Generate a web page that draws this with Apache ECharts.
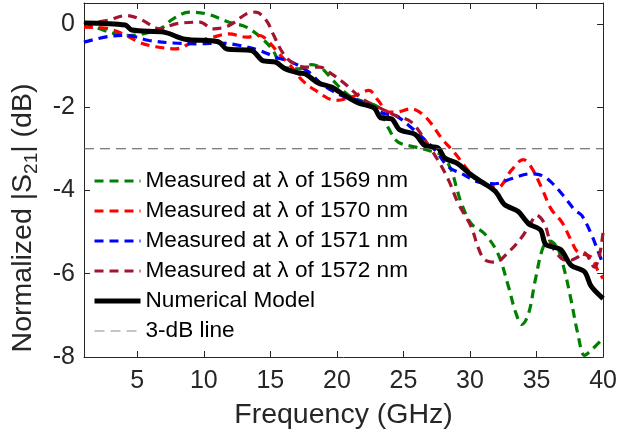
<!DOCTYPE html>
<html>
<head>
<meta charset="utf-8">
<script src="https://cdn.jsdelivr.net/npm/echarts@6/dist/echarts.min.js"></script>
<style>
html,body{margin:0;padding:0;background:#fff;}
#chart{width:620px;height:440px;}
</style>
</head>
<body>
<div id="chart"></div>
<script>
// ---- data (frequency GHz, normalized |S21| dB) ----
const xTicks = [5, 10, 15, 20, 25, 30, 35, 40];
const yTicks = [-8, -6, -4, -2, 0];
const seriesNames = [
  'Measured at \u03bb of 1569 nm',
  'Measured at \u03bb of 1570 nm',
  'Measured at \u03bb of 1571 nm',
  'Measured at \u03bb of 1572 nm',
  'Numerical Model',
  '3-dB line'
];
const meas1569 = [[1,0.04],[2.9,-0.2],[4.4,-0.28],[6.7,-0.12],[7.7,0.12],[8.9,0.28],[10.2,0.24],[11.9,0.04],[13.2,-0.08],[14.4,-0.36],[15.2,-0.64],[15.9,-1.02],[17.2,-1.08],[18.1,-0.98],[18.9,-1.08],[19.6,-1.32],[20.9,-1.72],[22.1,-1.88],[23.1,-2.0],[23.9,-2.52],[24.6,-2.84],[25.9,-2.96],[26.9,-3.04],[27.9,-3.16],[28.6,-3.52],[29.0,-3.95],[29.4,-4.35],[30.1,-4.8],[31.1,-5.04],[32.1,-5.52],[32.9,-6.32],[33.4,-6.9],[33.9,-7.22],[34.4,-6.96],[34.9,-6.16],[35.5,-5.36],[36.0,-5.22],[36.6,-5.4],[37.1,-5.92],[37.6,-6.64],[38.1,-7.44],[38.6,-7.96],[39.1,-7.84],[40,-7.55]];
const meas1570 = [[1,-0.08],[2.5,-0.1],[4,-0.25],[5.2,-0.45],[6.4,-0.55],[7.9,-0.6],[9.2,-0.44],[10.7,-0.32],[11.9,-0.24],[13.2,-0.32],[14.2,-0.28],[14.9,-0.44],[15.6,-0.7],[16.6,-1.04],[17.4,-1.36],[18.4,-1.6],[19.9,-1.84],[21.1,-1.76],[22.4,-1.6],[23.1,-1.84],[23.9,-2.12],[24.4,-2.12],[25.6,-2.04],[26.4,-2.16],[27.1,-2.4],[27.9,-2.76],[28.9,-3.12],[30.1,-3.6],[31.4,-3.88],[32.1,-3.92],[33.1,-3.52],[34.0,-3.26],[34.6,-3.44],[35.4,-3.95],[36.1,-4.45],[36.9,-4.76],[37.6,-5.2],[38.1,-5.48],[39.1,-5.6],[39.6,-5.92],[40,-6.12]];
const meas1571 = [[1,-0.44],[2.9,-0.3],[4.2,-0.28],[5.9,-0.4],[7.7,-0.46],[9.7,-0.48],[11.2,-0.46],[12.7,-0.52],[14.2,-0.64],[15.4,-0.8],[16.6,-0.92],[17.9,-1.16],[18.7,-1.4],[19.6,-1.6],[20.6,-1.76],[21.6,-1.84],[22.6,-2.0],[23.6,-2.16],[24.4,-2.2],[25.4,-2.44],[26.4,-2.72],[27.4,-3.04],[28.4,-3.44],[29.4,-3.6],[30.6,-3.8],[31.9,-3.84],[33.1,-3.72],[34.6,-3.6],[35.4,-3.64],[36.1,-3.8],[37.1,-4.16],[37.9,-4.48],[38.4,-4.6],[39.1,-5.04],[39.6,-5.44],[40,-5.78]];
const meas1572 = [[1,0.0],[2.7,0.08],[4.2,0.2],[5.3,0.1],[6.7,-0.12],[7.9,0.0],[9.7,0.04],[10.7,-0.12],[11.9,-0.04],[13.2,0.24],[13.9,0.28],[14.7,0.08],[15.2,-0.24],[15.9,-0.68],[16.6,-0.92],[17.6,-1.04],[18.7,-1.04],[19.6,-1.2],[20.6,-1.44],[21.9,-1.8],[23.1,-2.0],[24.4,-2.2],[25.6,-2.36],[26.6,-2.78],[27.6,-3.28],[28.4,-3.76],[29.1,-4.3],[30.1,-4.88],[30.6,-5.36],[31.1,-5.66],[31.9,-5.72],[32.9,-5.48],[33.9,-5.12],[34.6,-4.76],[35.0,-4.6],[35.6,-4.8],[36.1,-5.3],[36.9,-5.64],[37.5,-5.68],[38.1,-5.6],[38.6,-5.5],[39.35,-5.84],[39.7,-5.6],[40,-5.0]];
const numericalModel = [[1,0.02],[4.1,-0.03],[4.6,-0.15],[7.0,-0.2],[8.6,-0.37],[11.1,-0.43],[11.7,-0.6],[13.6,-0.64],[14.4,-0.88],[15.4,-0.92],[16.1,-1.08],[17.1,-1.18],[17.6,-1.2],[18.6,-1.42],[19.6,-1.52],[20.6,-1.72],[21.6,-1.9],[22.8,-2.02],[23.3,-2.26],[24.1,-2.28],[24.7,-2.54],[25.9,-2.66],[26.6,-2.92],[27.6,-2.98],[28.1,-3.22],[29.1,-3.36],[29.9,-3.58],[30.9,-3.8],[31.9,-4.02],[32.6,-4.34],[33.6,-4.5],[34.4,-4.8],[35.3,-4.95],[35.7,-5.3],[36.8,-5.42],[37.6,-5.8],[38.6,-5.95],[39.1,-6.3],[40,-6.6]];
const threeDbLine = [[1,-3],[40,-3]];

const xMin = 1, xMax = 40, yMin = -8, yMax = 0.5;

const axisColor = '#262626';
const font = 'Liberation Sans, Arial, Helvetica, sans-serif';
const legendWidths = [3, 3, 3, 3, 5, 1];
const legendColors = ['#008000', '#ff0000', '#0000ff', '#a2142f', '#000000', '#8c8c8c'];

function dashed(name, data, color) {
  return {
    name, type: 'line', data, symbol: 'none', smooth: 0.35,
    lineStyle: { color, width: 3.2, type: [9, 6] },
    itemStyle: { color },
    clip: true
  };
}

function frameAxis(pos) {
  return {
    type: 'value', position: pos,
    axisLine: { show: true, onZero: false, lineStyle: { color: axisColor, width: 1 } },
    axisLabel: { show: false }, splitLine: { show: false }
  };
}

const chart = echarts.init(document.getElementById('chart'));
chart.setOption({
  animation: false,
  backgroundColor: '#fff',
  textStyle: { fontFamily: font },
  grid: { left: 84, right: 14, top: 3, bottom: 83 },
  legend: {
    orient: 'vertical', left: 92, top: 169, padding: 0,
    itemWidth: 46, itemHeight: 14, itemGap: 6,
    itemStyle: { opacity: 0 },
    textStyle: { fontSize: 22.6, lineHeight: 24, color: '#000', fontFamily: font },
    data: seriesNames.map((n, i) => ({ name: n, lineStyle: { width: legendWidths[i], color: legendColors[i] } }))
  },
  xAxis: [Object.assign(frameAxis('bottom'), {
    min: xMin, max: xMax,
    axisTick: { show: true, inside: true, length: 6, customValues: xTicks, lineStyle: { color: axisColor } },
    axisLabel: { show: true, customValues: xTicks, fontSize: 25, color: axisColor, margin: 12, fontFamily: font },
    name: 'Frequency (GHz)', nameLocation: 'middle', nameGap: 44,
    nameTextStyle: { fontSize: 28.5, color: axisColor, fontFamily: font }
  }), Object.assign(frameAxis('top'), {
    min: xMin, max: xMax,
    axisTick: { show: true, inside: true, length: 6, customValues: xTicks, lineStyle: { color: axisColor } }
  })],
  yAxis: [Object.assign(frameAxis('left'), {
    min: yMin, max: yMax,
    axisTick: { show: true, inside: true, length: 6, customValues: yTicks, lineStyle: { color: axisColor } },
    axisLabel: { show: true, customValues: yTicks, fontSize: 25, color: axisColor, margin: 9, fontFamily: font },
    name: 'Normalized |S{s|21}| (dB)', nameLocation: 'middle', nameGap: 43, nameRotate: 90,
    nameTextStyle: {
      fontSize: 28.5, color: axisColor, fontFamily: font, padding: [0, 76, 0, 0],
      rich: { s: { fontSize: 19, color: axisColor, fontFamily: font, padding: [17, 0, 0, 0] } }
    }
  }), Object.assign(frameAxis('right'), {
    min: yMin, max: yMax,
    axisTick: { show: true, inside: true, length: 6, customValues: yTicks, lineStyle: { color: axisColor } }
  })],
  series: [
    dashed(seriesNames[0], meas1569, '#008000'),
    dashed(seriesNames[1], meas1570, '#ff0000'),
    dashed(seriesNames[2], meas1571, '#0000ff'),
    dashed(seriesNames[3], meas1572, '#a2142f'),
    {
      name: seriesNames[4], type: 'line', data: numericalModel, symbol: 'none', smooth: 0.3,
      lineStyle: { color: '#000', width: 5 }, itemStyle: { color: '#000' }
    },
    {
      name: seriesNames[5], type: 'line', data: threeDbLine, symbol: 'none',
      lineStyle: { color: '#555555', width: 1, type: [10, 6] }, itemStyle: { color: '#555555' }
    }
  ]
});
</script>
</body>
</html>
